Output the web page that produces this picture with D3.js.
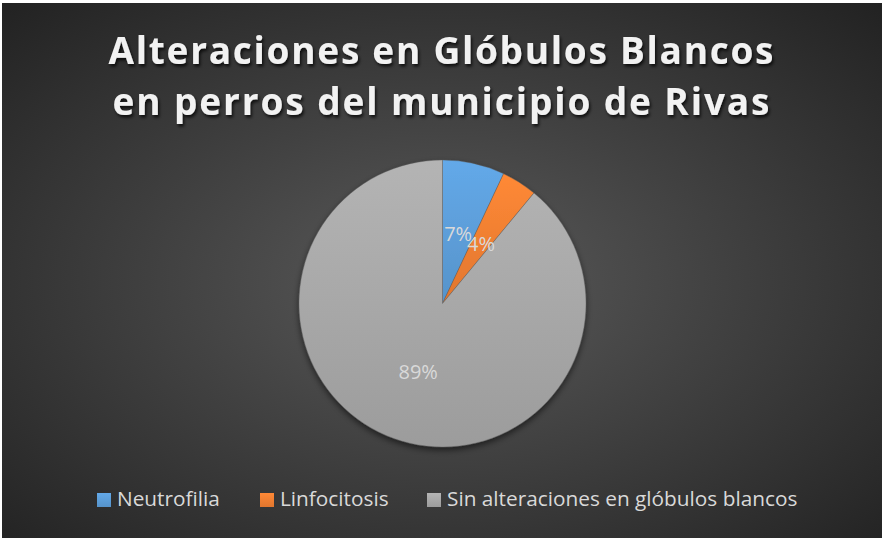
<!DOCTYPE html>
<html>
<head>
<meta charset="utf-8">
<script src="https://cdn.jsdelivr.net/npm/d3@7"></script>
<style>
  html, body { margin: 0; padding: 0; background: #ffffff; }
  svg { display: block; }
</style>
</head>
<body>
<svg id="chart" width="882" height="538"></svg>
<script>
// Chart data
const titleLines = ["Alteraciones en Glóbulos Blancos", "en perros del municipio de Rivas"];
const categories = ["Neutrofilia", "Linfocitosis", "Sin alteraciones en glóbulos blancos"];
const values = [7, 4, 89];
const labels = ["7%", "4%", "89%"];
const colors = ["#5B9BD5", "#ED7D31", "#A5A5A5"];

const W = 882, H = 538;
const svg = d3.select("#chart");
const defs = svg.append("defs");

// Dark radial background
const bg = defs.append("radialGradient").attr("id", "bgGrad")
  .attr("cx", "50%").attr("cy", "52%").attr("r", "72%");
bg.append("stop").attr("offset", "0%").attr("stop-color", "#5a5a5a");
bg.append("stop").attr("offset", "100%").attr("stop-color", "#222222");

// Slightly lighter top / darker bottom for each slice colour
colors.forEach((c, i) => {
  const g = defs.append("linearGradient").attr("id", "sl" + i)
    .attr("x1", 0).attr("y1", 0).attr("x2", 0).attr("y2", 1);
  g.append("stop").attr("offset", "0%").attr("stop-color", d3.color(c).brighter(0.25));
  g.append("stop").attr("offset", "100%").attr("stop-color", d3.color(c).darker(0.15));
});

// Title text shadow
const ts = defs.append("filter").attr("id", "titleShadow")
  .attr("x", "-5%").attr("y", "-30%").attr("width", "110%").attr("height", "160%");
ts.append("feDropShadow").attr("dx", 1.5).attr("dy", 2.5).attr("stdDeviation", 1.6)
  .attr("flood-color", "#000").attr("flood-opacity", 0.75);

// Pie shadow
const ps = defs.append("filter").attr("id", "pieShadow")
  .attr("x", "-10%").attr("y", "-10%").attr("width", "120%").attr("height", "125%");
ps.append("feDropShadow").attr("dx", 0).attr("dy", 3).attr("stdDeviation", 3)
  .attr("flood-color", "#000").attr("flood-opacity", 0.55);

// Chart area
svg.append("rect").attr("x", 2).attr("y", 3).attr("width", W - 2).attr("height", H - 3)
  .attr("fill", "url(#bgGrad)");

// Title
const titleX = 441, titleY = [64, 115], titleW = [665, 657];
svg.append("g").attr("filter", "url(#titleShadow)")
  .selectAll("text").data(titleLines).join("text")
  .attr("x", titleX).attr("y", (d, i) => titleY[i])
  .attr("text-anchor", "middle")
  .attr("textLength", (d, i) => titleW[i])
  .attr("lengthAdjust", "spacing")
  .attr("font-family", "'Open Sans', 'DejaVu Sans', sans-serif")
  .attr("font-weight", "bold")
  .attr("font-size", 37)
  .attr("fill", "#f2f2f2")
  .text(d => d);

// Pie
const cx = 442.5, cy = 303.5, R = 143.5;
const pie = d3.pie().sort(null).value(d => d)(values);
const arc = d3.arc().innerRadius(0).outerRadius(R);
const labelArc = d3.arc().innerRadius(R * 0.5).outerRadius(R * 0.5);

const pg = svg.append("g").attr("transform", `translate(${cx},${cy})`);
pg.append("g").attr("filter", "url(#pieShadow)")
  .selectAll("path").data(pie).join("path")
  .attr("d", arc)
  .attr("fill", (d, i) => `url(#sl${i})`)
  .attr("stroke", "#5a5a5a").attr("stroke-width", 0.6).attr("stroke-opacity", 0.6);

pg.selectAll("text.lbl").data(pie).join("text")
  .attr("class", "lbl")
  .attr("transform", d => `translate(${labelArc.centroid(d)})`)
  .attr("text-anchor", "middle")
  .attr("dy", "0.4em")
  .attr("font-family", "'Open Sans', 'DejaVu Sans', sans-serif")
  .attr("font-size", 20)
  .attr("fill", "#d9d9d9")
  .text((d, i) => labels[i]);

// Legend
const legX = [97, 260, 427];
const legY = 493;
const lg = svg.append("g");
const items = lg.selectAll("g").data(categories).join("g")
  .attr("transform", (d, i) => `translate(${legX[i]},${legY})`);
items.append("rect").attr("width", 14).attr("height", 14)
  .attr("fill", (d, i) => `url(#sl${i})`);
items.append("text")
  .attr("x", 20).attr("y", 12.7)
  .attr("font-family", "'Open Sans', 'DejaVu Sans', sans-serif")
  .attr("font-size", 20.8)
  .attr("fill", "#d9d9d9")
  .text(d => d);
</script>
</body>
</html>
